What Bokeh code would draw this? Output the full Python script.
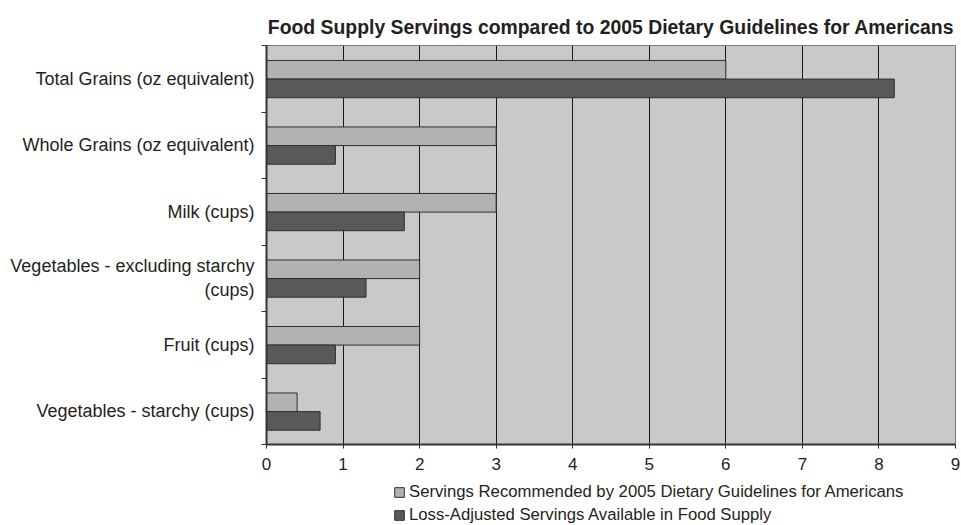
import numpy as np
from bokeh.plotting import figure
from bokeh.layouts import column
from bokeh.models import FixedTicker, Legend, LegendItem, Range1d
from bokeh.embed import file_html
from bokeh.resources import INLINE

# ---- data (top to bottom as shown) ----
categories = [
    "Total Grains (oz equivalent)",
    "Whole Grains (oz equivalent)",
    "Milk (cups)",
    "Vegetables - excluding starchy\n(cups)",
    "Fruit (cups)",
    "Vegetables - starchy (cups)",
]
recommended = [6, 3, 3, 2, 2, 0.4]
available = [8.2, 0.9, 1.8, 1.3, 0.9, 0.7]
x_ticks = [0, 1, 2, 3, 4, 5, 6, 7, 8, 9]
series_names = [
    "Servings Recommended by 2005 Dietary Guidelines for Americans",
    "Loss-Adjusted Servings Available in Food Supply",
]
series_colors = ["#b1b2b4", "#58595b"]
title_text = "Food Supply Servings compared to 2005 Dietary Guidelines for Americans"

n = len(categories)
centers = np.array([n - 1 - i + 0.5 for i in range(n)])
bar_h = 0.28

FONT = "Liberation Sans"
TXT = "#231f20"
EDGE = "#2e2e2e"

p = figure(
    frame_width=689, frame_height=399,
    x_range=Range1d(0, 9), y_range=Range1d(0, n),
    output_backend="svg", toolbar_location=None,
    min_border_left=266, min_border_right=6,
    min_border_top=45, min_border_bottom=36,
)
p.background_fill_color = "#c8c9cb"
p.border_fill_color = "white"
p.outline_line_color = "#7a7a7a"
p.outline_line_width = 1

p.title.text = title_text
p.title.text_font = FONT
p.title.text_font_size = "19.4px"
p.title.text_font_style = "bold"
p.title.text_color = TXT
p.title.align = "center"
p.title.standoff = 16

p.hbar(y=centers + 0.135, right=recommended, left=0, height=bar_h,
       fill_color=series_colors[0], line_color=EDGE, line_width=1)
p.hbar(y=centers - 0.145, right=available, left=0, height=bar_h,
       fill_color=series_colors[1], line_color=EDGE, line_width=1)

# x axis
xa = p.xaxis[0]
xa.ticker = FixedTicker(ticks=x_ticks)
xa.axis_line_color = "#333333"
xa.axis_line_width = 2
xa.major_tick_line_color = "#333333"
xa.major_tick_out = 4
xa.major_tick_in = 0
xa.minor_tick_line_color = None
xa.major_label_text_font = FONT
xa.major_label_text_font_size = "17px"
xa.major_label_text_color = TXT
xa.major_label_standoff = 9

# y axis
ya = p.yaxis[0]
ya.ticker = FixedTicker(ticks=list(centers), minor_ticks=list(range(n + 1)))
ya.major_label_overrides = {float(c): lab for c, lab in zip(centers, categories)}
ya.axis_line_color = "#333333"
ya.axis_line_width = 2
ya.major_tick_out = 0
ya.major_tick_in = 0
ya.minor_tick_out = 5
ya.minor_tick_in = 0
ya.minor_tick_line_color = "#333333"
ya.major_label_text_font = FONT
ya.major_label_text_font_size = "18px"
ya.major_label_text_color = TXT
ya.major_label_standoff = 7

p.xgrid.ticker = FixedTicker(ticks=x_ticks)
p.xgrid.grid_line_color = "#1a1a1a"
p.xgrid.grid_line_width = 1
p.ygrid.grid_line_color = None

# legend strip below the chart (its frame aligns with the chart's frame)
p2 = figure(
    width=961, height=45,
    x_range=Range1d(0, 1), y_range=Range1d(0, 1),
    output_backend="svg", toolbar_location=None,
    x_axis_type=None, y_axis_type=None,
    min_border=0,
)
p2.outline_line_color = None
p2.grid.visible = False
p2.background_fill_color = "white"
p2.border_fill_color = "white"
# legend-only renderers: one off-range bar each so the legend swatch is drawn
lr1 = p2.hbar(y=[-10], right=[recommended[0]], left=0, height=0.1,
              fill_color=series_colors[0], line_color=EDGE, line_width=1)
lr2 = p2.hbar(y=[-10], right=[available[0]], left=0, height=0.1,
              fill_color=series_colors[1], line_color=EDGE, line_width=1)

legend = Legend(
    items=[LegendItem(label=series_names[0], renderers=[lr1]),
           LegendItem(label=series_names[1], renderers=[lr2])],
    orientation="vertical", location=(127, 0),
    label_text_font=FONT, label_text_font_size="16.7px", label_text_color=TXT,
    glyph_width=12, glyph_height=12, label_height=20, spacing=3,
    label_standoff=4, padding=0, margin=0,
    border_line_color=None, background_fill_alpha=0,
)
p2.add_layout(legend, "center")

layout = column(p, p2, spacing=0)
open("out.html", "w").write(file_html(layout, INLINE))
